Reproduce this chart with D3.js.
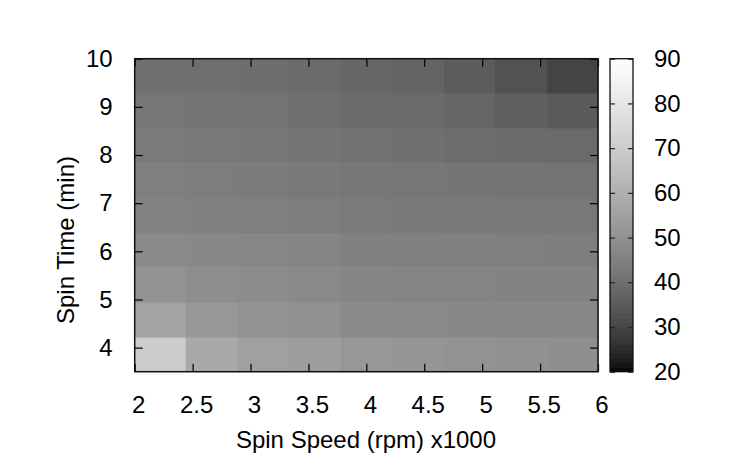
<!DOCTYPE html>
<html>
<head>
<meta charset="utf-8">
<script src="https://cdn.jsdelivr.net/npm/d3@7"></script>
<style>
  body { margin: 0; background: #fff; }
  svg text { font-family: "Liberation Sans", Arial, sans-serif; font-size: 24px; fill: #000; }
</style>
</head>
<body>
<svg width="729" height="474"></svg>
<script>
// grid edges of the map (spin speed x1000 rpm, spin time min)
var speedEdges = [2.00, 2.44, 2.89, 3.33, 3.78, 4.22, 4.67, 5.11, 5.56, 6.00];
var timeEdges = [3.50, 4.22, 4.94, 5.67, 6.39, 7.11, 7.83, 8.56, 9.28, 10.00];

// cell values, one row per time band, bottom row first
var row1 = [70.1, 57.8, 54.8, 53.8, 51.9, 51.3, 50.6, 50.0, 49.4];
var row2 = [55.8, 51.9, 50.6, 49.7, 47.9, 47.6, 47.3, 47.0, 47.0];
var row3 = [50.6, 49.1, 48.5, 47.6, 46.4, 46.1, 46.1, 45.8, 45.8];
var row4 = [47.9, 47.3, 47.0, 46.4, 45.2, 44.9, 44.9, 44.6, 44.3];
var row5 = [45.8, 45.2, 44.6, 44.0, 43.5, 43.2, 42.9, 42.9, 42.6];
var row6 = [44.6, 44.0, 43.5, 42.9, 42.3, 42.0, 41.8, 41.5, 41.2];
var row7 = [43.5, 42.9, 42.3, 41.8, 40.9, 40.4, 39.6, 39.0, 38.8];
var row8 = [42.0, 41.8, 41.2, 40.4, 39.0, 38.8, 37.4, 36.2, 34.7];
var row9 = [40.4, 40.1, 39.8, 39.0, 38.0, 37.2, 35.2, 32.8, 29.6];
var rows = [row1, row2, row3, row4, row5, row6, row7, row8, row9];

var xTicks = [2, 2.5, 3, 3.5, 4, 4.5, 5, 5.5, 6];
var yTicks = [4, 5, 6, 7, 8, 9, 10];
var cbTicks = [20, 30, 40, 50, 60, 70, 80, 90];

var svg = d3.select("svg");

var x = d3.scaleLinear().domain([2, 6]).range([134.7, 598]);
var y = d3.scaleLinear().domain([3.5, 10]).range([371.7, 58.7]);

// gnuplot style gray palette (gamma 1.5)
var color = d3.scaleSequential(function (t) {
  var g = Math.round(255 * Math.pow(t, 1 / 1.5));
  return d3.rgb(g, g, g);
}).domain([20, 90]);

// flatten the grid into cells
var cells = [];
rows.forEach(function (r, j) {
  r.forEach(function (v, i) {
    cells.push({ x0: speedEdges[i], x1: speedEdges[i + 1], y0: timeEdges[j], y1: timeEdges[j + 1], v: v });
  });
});

svg.append("g")
  .selectAll("rect")
  .data(cells)
  .enter()
  .append("rect")
  .attr("x", function (d) { return x(d.x0); })
  .attr("y", function (d) { return y(d.y1); })
  .attr("width", function (d) { return x(d.x1) - x(d.x0) + 0.5; })
  .attr("height", function (d) { return y(d.y0) - y(d.y1) + 0.5; })
  .attr("fill", function (d) { return color(d.v); });

// axes, ticks drawn inward on all four sides
var axBottom = svg.append("g")
  .attr("transform", "translate(0," + y(3.5) + ")")
  .call(d3.axisBottom(x).tickValues(xTicks).tickSize(-8).tickPadding(24).tickFormat(d3.format("")));
var axTop = svg.append("g")
  .attr("transform", "translate(0," + y(10) + ")")
  .call(d3.axisTop(x).tickValues(xTicks).tickSize(-8).tickFormat(""));
var axLeft = svg.append("g")
  .attr("transform", "translate(" + x(2) + ",0)")
  .call(d3.axisLeft(y).tickValues(yTicks).tickSize(-8).tickPadding(22).tickFormat(d3.format("")));
var axRight = svg.append("g")
  .attr("transform", "translate(" + x(6) + ",0)")
  .call(d3.axisRight(y).tickValues(yTicks).tickSize(-8).tickFormat(""));

axBottom.selectAll("text").attr("dx", 3.5);
[axBottom, axTop, axLeft, axRight].forEach(function (a) {
  a.select(".domain").remove();
  a.selectAll("line").attr("stroke", "#000").attr("stroke-width", 1.2);
});

svg.append("rect")
  .attr("x", x(2)).attr("y", y(10))
  .attr("width", x(6) - x(2)).attr("height", y(3.5) - y(10))
  .attr("fill", "none").attr("stroke", "#111").attr("stroke-width", 1.5);

// colour box, drawn as 1-unit bands like gnuplot does
var cb = d3.scaleLinear().domain([20, 90]).range([371.7, 58.7]);
var cbX0 = 610, cbX1 = 633;
var steps = d3.range(20, 90, 1);
svg.append("g")
  .attr("shape-rendering", "crispEdges")
  .selectAll("rect")
  .data(steps)
  .enter()
  .append("rect")
  .attr("x", cbX0)
  .attr("y", function (d) { return cb(d + 1); })
  .attr("width", cbX1 - cbX0)
  .attr("height", function (d) { return cb(d) - cb(d + 1) + 0.5; })
  .attr("fill", function (d) { return color(d + 0.5); });

var cbRight = svg.append("g")
  .attr("transform", "translate(" + cbX1 + ",0)")
  .call(d3.axisRight(cb).tickValues(cbTicks).tickSize(-5).tickPadding(21));
var cbLeft = svg.append("g")
  .attr("transform", "translate(" + cbX0 + ",0)")
  .call(d3.axisLeft(cb).tickValues(cbTicks).tickSize(-5).tickFormat(""));
[cbRight, cbLeft].forEach(function (a) {
  a.select(".domain").remove();
  a.selectAll("line").attr("stroke", "#222").attr("stroke-width", 1.2);
});

svg.append("rect")
  .attr("x", cbX0).attr("y", cb(90))
  .attr("width", cbX1 - cbX0).attr("height", cb(20) - cb(90))
  .attr("fill", "none").attr("stroke", "#111").attr("stroke-width", 1.3);

// axis titles
svg.append("text")
  .attr("x", 366).attr("y", 448)
  .attr("text-anchor", "middle")
  .text("Spin Speed (rpm) x1000");

svg.append("text")
  .attr("transform", "translate(74,240) rotate(-90)")
  .attr("text-anchor", "middle")
  .text("Spin Time (min)");
</script>
</body>
</html>
